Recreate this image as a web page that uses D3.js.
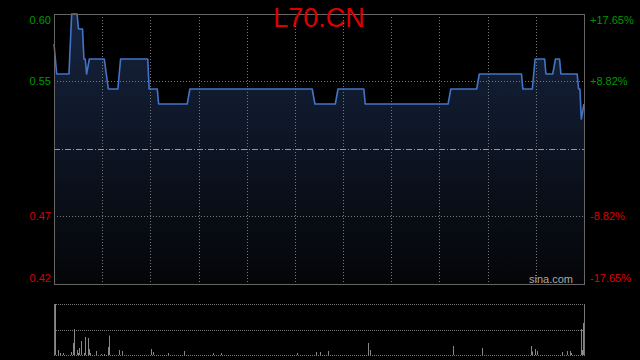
<!DOCTYPE html>
<html>
<head>
<meta charset="utf-8">
<script src="https://cdn.jsdelivr.net/npm/d3@7"></script>
<style>
    body { margin: 0; background: #000; }
    svg { display: block; font-family: 'Liberation Sans', Arial, sans-serif; }
</style>
</head>
<body>
<div id="chart"></div>
<script>
// intraday vertices, minute index from open
const minutes = [0, 2, 11, 13, 17, 18, 21, 22, 23, 24, 26, 37, 40, 47, 49, 69, 70, 76, 77, 98, 100,
    190, 192, 207, 209, 228, 229, 290, 292, 311, 313, 344, 345, 352, 354, 361, 362, 367, 369,
    372, 373, 385, 386, 387, 388, 390];
const prices = [0.58, 0.56, 0.56, 0.60, 0.60, 0.59, 0.59, 0.57, 0.57, 0.56, 0.57, 0.57, 0.55, 0.55, 0.57, 0.57, 0.55, 0.55, 0.54, 0.54, 0.55,
    0.55, 0.54, 0.54, 0.55, 0.55, 0.54, 0.54, 0.55, 0.55, 0.56, 0.56, 0.55, 0.55, 0.57, 0.57, 0.56, 0.56, 0.57,
    0.57, 0.56, 0.56, 0.55, 0.55, 0.53, 0.54];

const volMinutes = [0, 2, 4, 6, 12, 13, 14, 16, 17, 18, 19, 21, 22, 24, 25, 26, 30, 34, 36, 39, 40, 47, 49,
    71, 72, 83, 95, 116, 122, 178, 192, 195, 201, 230, 232, 293, 314, 350, 351, 353, 355,
    373, 377, 379, 380, 387, 388, 389, 390];
const volumes = [51000, 5000, 2000, 2000, 3000, 12000, 26000, 5000, 2000, 7000, 14000, 2000, 18000, 17000, 6000, 2000, 4000, 1000, 1000, 8000, 19500, 5000, 4000,
    6000, 3000, 2000, 4000, 2000, 2000, 2000, 3000, 3000, 4000, 12000, 5000, 9000, 7000, 9000, 3500, 6000, 4000,
    3000, 4000, 4000, 2000, 26000, 5000, 32000, 26000];

const prevClose = 0.51;
const leftLabels = ['0.60', '0.55', '0.47', '0.42'];
const rightLabels = ['+17.65%', '+8.82%', '-8.82%', '-17.65%'];
const title = 'L70.CN';

const svgWidth = 640;
const svgHeight = 360;
const margin = { left: 54, right: 56, top: 14 };
const plotH = 270;
const volTop = 304;
const volBottom = 355;
const plotW = svgWidth - margin.left - margin.right;

const svg = d3.select('#chart').append('svg')
    .attr('width', svgWidth)
    .attr('height', svgHeight);

svg.append('rect').attr('width', svgWidth).attr('height', svgHeight).attr('fill', '#000');

const x = d3.scaleLinear().domain([0, 390]).range([margin.left, margin.left + plotW]);
const y = d3.scaleLinear().domain([0.42, 0.60]).range([margin.top + plotH, margin.top]);
const yVol = d3.scaleLinear().domain([0, d3.max(volumes)]).range([volBottom, volTop]);

const grad = svg.append('defs').append('linearGradient')
    .attr('id', 'fillGrad')
    .attr('gradientUnits', 'userSpaceOnUse')
    .attr('x1', 0).attr('x2', 0)
    .attr('y1', margin.top).attr('y2', margin.top + plotH);
grad.append('stop').attr('offset', '0%').attr('stop-color', '#16243f');
grad.append('stop').attr('offset', '100%').attr('stop-color', '#040507');

const pts = minutes.map((m, i) => [m, prices[i]]);

// area under the price line
const area = d3.area()
    .x(d => x(d[0]))
    .y0(margin.top + plotH)
    .y1(d => y(d[1]));
svg.append('path')
    .datum(pts)
    .attr('d', area)
    .attr('fill', 'url(#fillGrad)');

// vertical grid, 11 columns
const vTicks = d3.range(1, 11).map(i => i * 390 / 11);
svg.append('g')
    .selectAll('line')
    .data(vTicks)
    .enter()
    .append('line')
    .attr('x1', d => Math.round(x(d)) + 0.5)
    .attr('x2', d => Math.round(x(d)) + 0.5)
    .attr('y1', margin.top)
    .attr('y2', margin.top + plotH)
    .attr('stroke', '#777')
    .attr('stroke-dasharray', '1,2');

// horizontal grid
svg.append('g')
    .selectAll('line')
    .data([0.555, 0.465])
    .enter()
    .append('line')
    .attr('x1', margin.left)
    .attr('x2', margin.left + plotW)
    .attr('y1', d => Math.round(y(d)) + 0.5)
    .attr('y2', d => Math.round(y(d)) + 0.5)
    .attr('stroke', '#777')
    .attr('stroke-dasharray', '1,2');

// previous close
svg.append('line')
    .attr('x1', margin.left)
    .attr('x2', margin.left + plotW)
    .attr('y1', Math.round(y(prevClose)) + 0.5)
    .attr('y2', Math.round(y(prevClose)) + 0.5)
    .attr('stroke', '#999')
    .attr('stroke-dasharray', '6,2,1,2');

const line = d3.line()
    .x(d => x(d[0]))
    .y(d => y(d[1]));
svg.append('path')
    .datum(pts)
    .attr('d', line)
    .attr('fill', 'none')
    .attr('stroke', '#4274c8')
    .attr('stroke-width', 1.6)
    .attr('stroke-linejoin', 'round');

// frame
svg.append('rect')
    .attr('x', margin.left + 0.5)
    .attr('y', margin.top + 0.5)
    .attr('width', plotW)
    .attr('height', plotH)
    .attr('fill', 'none')
    .attr('stroke', '#666');

// axis labels
const labelY = [margin.top + 6, y(0.555), y(0.465), margin.top + plotH - 6];
const colors = ['#009900', '#009900', '#dd0000', '#dd0000'];
svg.append('g')
    .selectAll('text')
    .data(leftLabels)
    .enter()
    .append('text')
    .attr('x', margin.left - 3)
    .attr('y', (d, i) => labelY[i])
    .attr('dy', '0.35em')
    .attr('text-anchor', 'end')
    .attr('font-size', 11)
    .attr('fill', (d, i) => colors[i])
    .text(d => d);
svg.append('g')
    .selectAll('text')
    .data(rightLabels)
    .enter()
    .append('text')
    .attr('x', margin.left + plotW + 6)
    .attr('y', (d, i) => labelY[i])
    .attr('dy', '0.35em')
    .attr('font-size', 11)
    .attr('fill', (d, i) => colors[i])
    .text(d => d);

svg.append('text')
    .attr('x', 319)
    .attr('y', 27)
    .attr('text-anchor', 'middle')
    .attr('font-size', 27)
    .attr('fill', '#dd0000')
    .text(title);

svg.append('text')
    .attr('x', 573)
    .attr('y', 283)
    .attr('text-anchor', 'end')
    .attr('font-size', 11)
    .attr('fill', '#aaa')
    .text('sina.com');

// volume panel
svg.append('g')
    .selectAll('line')
    .data([volTop, (volTop + volBottom) / 2, volBottom])
    .enter()
    .append('line')
    .attr('x1', margin.left)
    .attr('x2', margin.left + plotW)
    .attr('y1', d => Math.round(d) + 0.5)
    .attr('y2', d => Math.round(d) + 0.5)
    .attr('stroke', '#777')
    .attr('stroke-dasharray', '1,1');

svg.append('g')
    .selectAll('rect')
    .data(volMinutes)
    .enter()
    .append('rect')
    .attr('x', d => Math.min(Math.round(x(d)) + 1, margin.left + plotW - 1))
    .attr('y', (d, i) => yVol(volumes[i]))
    .attr('width', 1)
    .attr('height', (d, i) => volBottom - yVol(volumes[i]))
    .attr('fill', '#888');

svg.append('g')
    .selectAll('line')
    .data([margin.left, margin.left + plotW])
    .enter()
    .append('line')
    .attr('x1', d => d + 0.5)
    .attr('x2', d => d + 0.5)
    .attr('y1', volTop)
    .attr('y2', volBottom + 1)
    .attr('stroke', '#777');
</script>
</body>
</html>
